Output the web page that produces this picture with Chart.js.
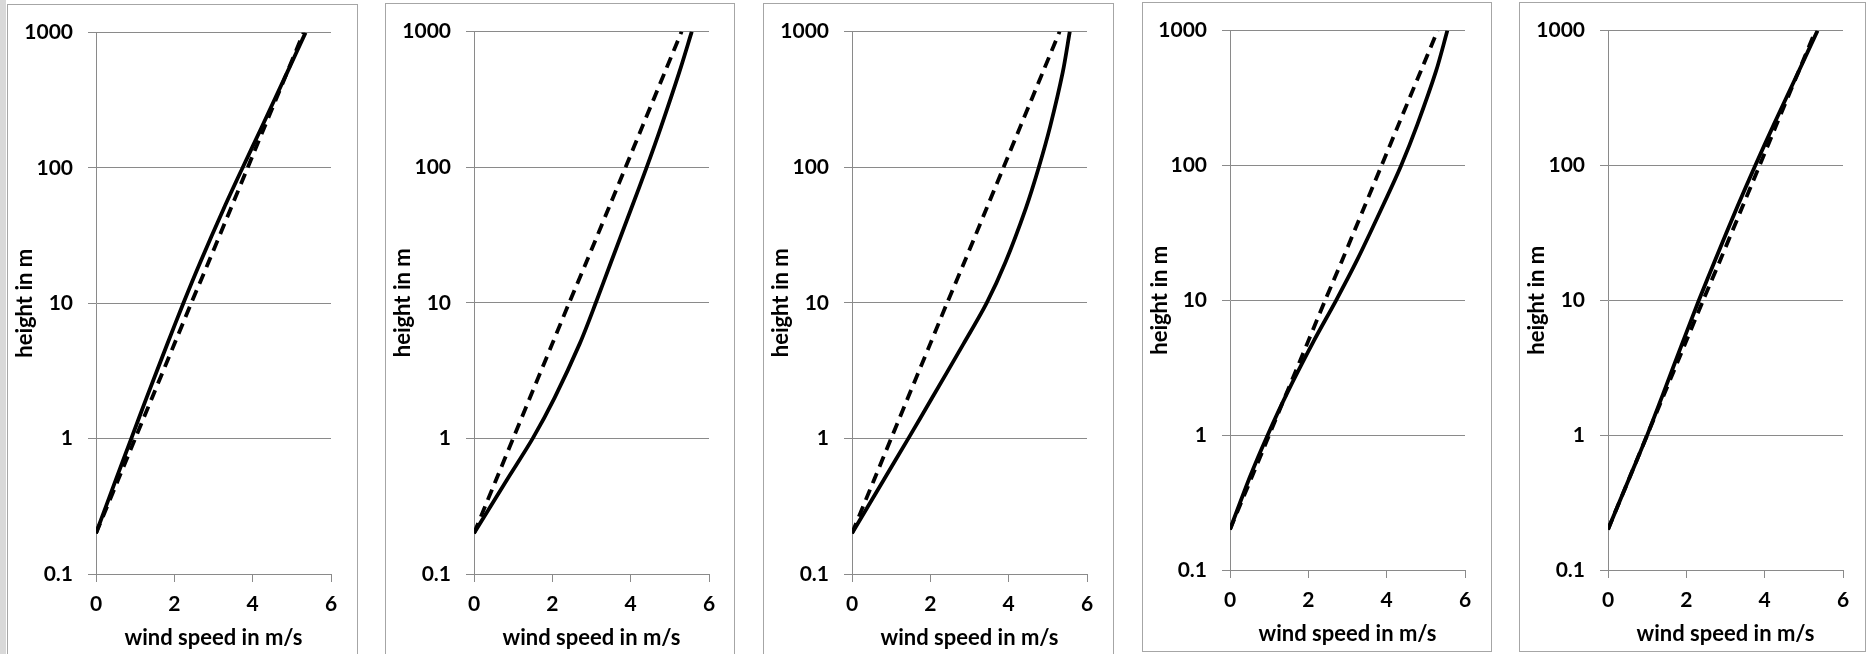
<!DOCTYPE html>
<html lang="en">
<head>
<meta charset="UTF-8">
<title>Wind speed profiles</title>
<script src="https://cdn.jsdelivr.net/npm/chart.js@4.4.1/dist/chart.umd.min.js"></script>
<style>
  body { margin: 0; width: 1866px; height: 654px; background: #fff; overflow: hidden; position: relative; }
  .strip { position: absolute; left: 0; top: 0; width: 6px; height: 654px; background: #d9d9d9; }
  .panel { position: absolute; border: 1px solid #a6a6a6; box-sizing: border-box; background: #fff; }
  .panel canvas { position: absolute; left: 0; top: 0; }
</style>
</head>
<body>
<div class="strip"></div>
<script>
const heights = [0.2, 0.5, 1, 2, 5, 10, 20, 50, 100, 200, 500, 1000];
// dashed curve, the same in every panel
const dashedSpeed = [0, 0.57, 1.0, 1.43, 2.0, 2.43, 2.87, 3.44, 3.87, 4.30, 4.87, 5.30];
// solid curve, one per panel
const solidSpeed1 = [0, 0.51, 0.90, 1.29, 1.82, 2.23, 2.66, 3.26, 3.74, 4.23, 4.87, 5.35];
const solidSpeed2 = [0, 0.85, 1.50, 2.06, 2.70, 3.11, 3.50, 4.02, 4.41, 4.78, 5.24, 5.56];
const solidSpeed3 = [0, 0.82, 1.44, 2.05, 2.85, 3.44, 3.92, 4.44, 4.77, 5.06, 5.38, 5.56];
const solidSpeed4 = [0, 0.52, 0.96, 1.44, 2.14, 2.71, 3.25, 3.90, 4.37, 4.78, 5.26, 5.55];
const solidSpeed5 = [0, 0.57, 1.00, 1.40, 1.92, 2.32, 2.74, 3.31, 3.76, 4.23, 4.87, 5.35];
const xTicks = [0, 2, 4, 6];
const yTicks = [0.1, 1, 10, 100, 1000];
const xTitle = 'wind speed in m/s';
const yTitle = 'height in m';

// page layout: box = panel frame, plot = chart area (left, top, right, bottom)
const panels = [
  { speed: solidSpeed1, box: [7, 4, 357, 662], plot: [96, 28, 331, 574] },
  { speed: solidSpeed2, box: [385, 3, 734, 662], plot: [474, 28, 709, 574] },
  { speed: solidSpeed3, box: [763, 3, 1113, 662], plot: [852, 28, 1087, 574] },
  { speed: solidSpeed4, box: [1142, 2, 1491, 651], plot: [1230, 25, 1465, 570] },
  { speed: solidSpeed5, box: [1519, 2, 1865, 651], plot: [1608, 25, 1843, 570] }
];

const gridColor = '#8a8a8a';
const tickFont = { family: 'Lato', size: 21, weight: 'bold', lineHeight: 1.2 };
const titleFont = { family: 'Lato', size: 22, weight: 'bold', lineHeight: 1.2 };

panels.forEach(p => {
  const [bl, bt, br, bb] = p.box;
  const [pl, pt, pr, pb] = p.plot;
  const div = document.createElement('div');
  div.className = 'panel';
  div.style.left = bl + 'px';
  div.style.top = bt + 'px';
  div.style.width = (br - bl + 1) + 'px';
  div.style.height = (bb - bt + 1) + 'px';
  document.body.appendChild(div);

  const cl = bl + 1, ct = bt + 1;
  const cw = br - bl - 1, ch = bb - bt - 1;
  const cv = document.createElement('canvas');
  cv.width = cw; cv.height = ch;
  cv.style.width = cw + 'px'; cv.style.height = ch + 'px';
  div.appendChild(cv);

  const titleLh = titleFont.size * titleFont.lineHeight;
  const xTitleCenter = pb + 64;
  const yTitleCenter = cl + 17;

  new Chart(cv, {
    type: 'scatter',
    data: {
      datasets: [
        {
          data: heights.map((h, i) => ({ x: p.speed[i], y: h })),
          showLine: true, borderColor: '#000', borderWidth: 3.8,
          pointRadius: 0, tension: 0.3
        },
        {
          data: heights.map((h, i) => ({ x: dashedSpeed[i], y: h })),
          showLine: true, borderColor: '#000', borderWidth: 3.8, borderDash: [11, 7],
          pointRadius: 0, tension: 0.3
        }
      ]
    },
    options: {
      responsive: false,
      animation: false,
      devicePixelRatio: 1,
      layout: { padding: { left: 0, top: pt - ct, right: cl + cw - pr, bottom: 0 } },
      plugins: { legend: { display: false }, tooltip: { enabled: false } },
      scales: {
        x: {
          type: 'linear', min: 0, max: 6,
          afterBuildTicks: s => { s.ticks = xTicks.map(v => ({ value: v })); },
          afterFit: s => { s.height = ch - (pb - ct); },
          grid: { drawOnChartArea: false, tickLength: 8, color: gridColor },
          border: { color: gridColor, width: 1 },
          ticks: { font: tickFont, color: '#000', padding: 10, maxRotation: 0 },
          title: {
            display: true, text: xTitle, font: titleFont, color: '#000',
            padding: { top: 0, bottom: (ct + ch) - xTitleCenter - titleLh / 2 }
          }
        },
        y: {
          type: 'logarithmic', min: 0.1, max: 1000,
          afterBuildTicks: s => { s.ticks = yTicks.map(v => ({ value: v })); },
          afterFit: s => { s.width = pl - cl; },
          grid: { tickLength: 8, color: gridColor },
          border: { color: gridColor, width: 1 },
          ticks: { font: tickFont, color: '#000', padding: 15, callback: v => String(v) },
          title: {
            display: true, text: yTitle, font: titleFont, color: '#000',
            padding: { top: yTitleCenter - cl - titleLh / 2, bottom: 0 }
          }
        }
      }
    }
  });
});
</script>
</body>
</html>
